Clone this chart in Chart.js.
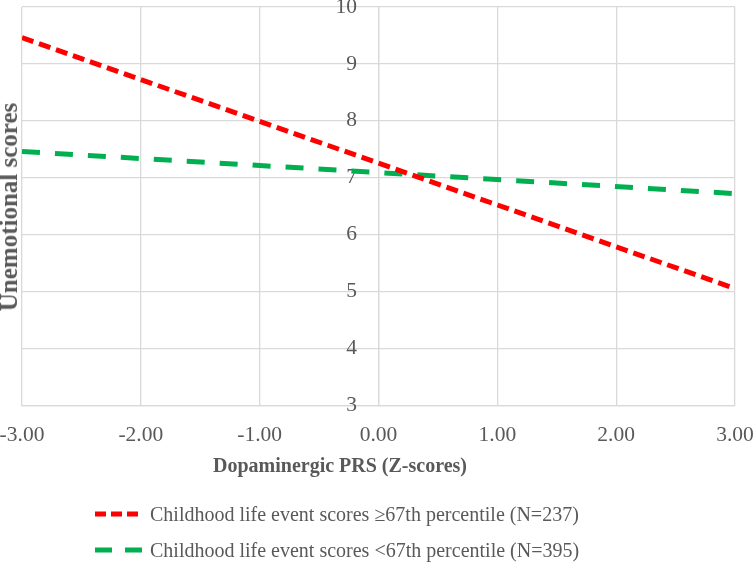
<!DOCTYPE html>
<html>
<head>
<meta charset="utf-8">
<script src="https://cdn.jsdelivr.net/npm/chart.js@4"></script>
<style>
  html, body { margin: 0; padding: 0; background: #fff; }
  #wrap { position: relative; width: 755px; height: 564px; }
  #c { position: absolute; left: 0; top: 0; }
  #ytitle { position: absolute; left: 9px; top: 207px; transform: translate(-50%, -50%) rotate(-90deg);
    font: bold 25px "Liberation Serif", serif; color: #595959; white-space: nowrap; }
  #xtitle { position: absolute; left: 340px; top: 465px; transform: translate(-50%, -50%);
    font: bold 20px "Liberation Serif", serif; color: #595959; white-space: nowrap; }
  #legend { position: absolute; left: 95px; top: 496px; font: 20px "Liberation Serif", serif; color: #595959; }
  .item { display: flex; align-items: center; height: 36px; white-space: nowrap; }
  .item svg { margin-right: 8px; }
</style>
</head>
<body>
<div id="wrap">
  <canvas id="c" width="755" height="564"></canvas>
  <div id="ytitle">Unemotional scores</div>
  <div id="xtitle">Dopaminergic PRS (Z-scores)</div>
  <div id="legend"></div>
</div>
<script>
const xValues = [-3, 3];
const highLifeEvents = [9.46, 5.05];
const lowLifeEvents = [7.46, 6.72];
const seriesNames = [
  "Childhood life event scores \u226567th percentile (N=237)",
  "Childhood life event scores <67th percentile (N=395)"
];
const xTicks = [-3, -2, -1, 0, 1, 2, 3];
const yTicks = [3, 4, 5, 6, 7, 8, 9, 10];

const colors = ['#ff0000', '#00b050'];
const dashes = [[12, 6], [18, 15]];
const legendDashes = ['11 5', '17 13'];

const toPts = (vals) => xValues.map((x, i) => ({ x: x, y: vals[i] }));

const grey = '#595959';
const font = "'Liberation Serif', serif";

new Chart(document.getElementById('c'), {
  type: 'scatter',
  data: {
    datasets: [
      { label: seriesNames[0], data: toPts(highLifeEvents), showLine: true, borderColor: colors[0],
        borderWidth: 5, borderDash: dashes[0], pointRadius: 0, borderCapStyle: 'butt' },
      { label: seriesNames[1], data: toPts(lowLifeEvents), showLine: true, borderColor: colors[1],
        borderWidth: 5, borderDash: dashes[1], pointRadius: 0, borderCapStyle: 'butt' }
    ]
  },
  options: {
    responsive: false,
    animation: false,
    layout: { padding: { left: 22, right: 20, top: 7, bottom: 99 } },
    plugins: { legend: { display: false }, tooltip: { enabled: false } },
    scales: {
      x: {
        type: 'linear', min: -3, max: 3,
        afterBuildTicks: (s) => { s.ticks = xTicks.map(v => ({ value: v })); },
        afterFit: (s) => { s.paddingLeft = 0; s.paddingRight = 0; },
        grid: { color: '#d9d9d9', lineWidth: 1.3, drawTicks: false },
        border: { display: true, color: '#d9d9d9', width: 1.3 },
        ticks: { color: grey, font: { family: font, size: 21.5 }, padding: 17,
          callback: (v) => Number(v).toFixed(2) }
      },
      y: {
        type: 'linear', min: 3, max: 10, position: { x: 0 },
        afterBuildTicks: (s) => { s.ticks = yTicks.map(v => ({ value: v })); },
        afterFit: (s) => { s.paddingTop = 0; s.paddingBottom = 0; },
        grid: { color: '#d9d9d9', lineWidth: 1.3, drawTicks: false },
        border: { display: true, color: '#d9d9d9', width: 1.3 },
        ticks: { color: grey, font: { family: font, size: 21.5 },
          callback: (v) => String(v) + '    ' }
      }
    }
  }
});

const legend = document.getElementById('legend');
seriesNames.forEach((name, i) => {
  const row = document.createElement('div');
  row.className = 'item';
  row.innerHTML = '<svg width="47" height="8"><line x1="0" y1="4" x2="47" y2="4" stroke="' + colors[i] +
    '" stroke-width="5" stroke-dasharray="' + legendDashes[i] + '"/></svg>';
  const span = document.createElement('span');
  span.textContent = name;
  row.appendChild(span);
  legend.appendChild(row);
});
</script>
</body>
</html>
